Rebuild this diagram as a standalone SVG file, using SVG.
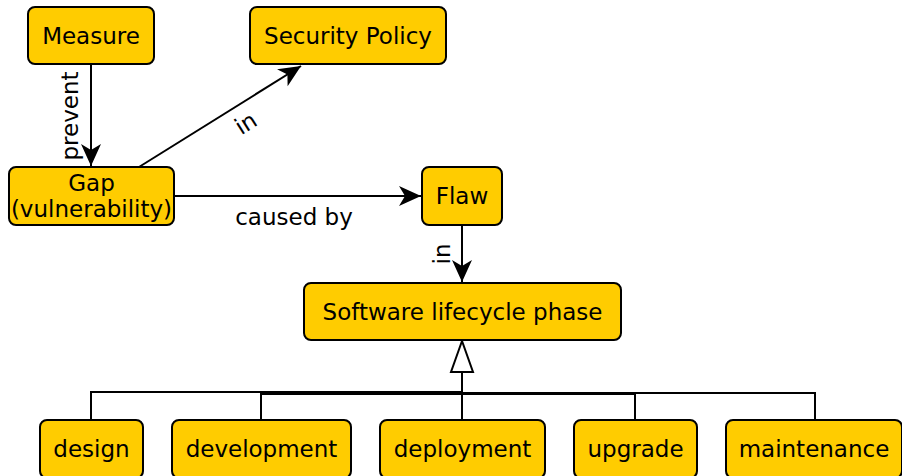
<svg xmlns="http://www.w3.org/2000/svg" width="902" height="476" viewBox="0 0 902 476">
<style>
.box{fill:#ffcc00;stroke:#000;stroke-width:2}
.t{font-family:"DejaVu Sans",sans-serif;font-size:23px;fill:#000;text-anchor:middle}
.e{fill:none;stroke:#000;stroke-width:2}
</style>
<defs>
<marker id="arr" markerUnits="userSpaceOnUse" viewBox="-24 -12 26 24" refX="0" refY="0" markerWidth="26" markerHeight="24" orient="auto">
<path d="M0,0 L-22,-10 L-16,0 L-22,10 Z" fill="#000"/>
</marker>
</defs>
<rect width="902" height="476" fill="#fff"/>
<g id="connectors">
<path class="e" d="M91,64 V166" marker-end="url(#arr)"/>
<path class="e" d="M139,167 L301,66" marker-end="url(#arr)"/>
<path class="e" d="M174,196 H421" marker-end="url(#arr)"/>
<path class="e" d="M462,225 V282" marker-end="url(#arr)"/>
<path class="e" d="M91,420 V392 H462"/>
<path class="e" d="M261,420 V394 H462"/>
<path class="e" d="M462,420 V372"/>
<path class="e" d="M635,420 V394 H462"/>
<path class="e" d="M815,420 V393 H462"/>
<path d="M462,341 L451,372 H473 Z" fill="#fff" stroke="#000" stroke-width="2"/>
<text class="t" transform="translate(78,116) rotate(-90)">prevent</text>
<text class="t" transform="translate(250,130) rotate(-32.4)">in</text>
<text class="t" x="294" y="225">caused by</text>
<text class="t" transform="translate(450,254) rotate(-90)">in</text>
</g>
<g id="measure"><rect class="box" x="28" y="7" width="126" height="57" rx="7"/><text class="t" x="91" y="44">Measure</text></g>
<g id="security-policy"><rect class="box" x="250" y="7" width="196" height="57" rx="7"/><text class="t" x="348" y="44">Security Policy</text></g>
<g id="gap"><rect class="box" x="9" y="167" width="165" height="58" rx="7"/><text class="t" x="91.5" y="191">Gap</text><text class="t" x="91.5" y="217">(vulnerability)</text></g>
<g id="flaw"><rect class="box" x="422" y="167" width="80" height="58" rx="7"/><text class="t" x="462" y="204">Flaw</text></g>
<g id="software-lifecycle-phase"><rect class="box" x="304" y="283" width="317" height="57" rx="7"/><text class="t" x="462.5" y="320">Software lifecycle phase</text></g>
<g id="design"><rect class="box" x="40" y="420" width="103" height="58" rx="7"/><text class="t" x="91.5" y="457">design</text></g>
<g id="development"><rect class="box" x="172" y="420" width="179" height="58" rx="7"/><text class="t" x="261.5" y="457">development</text></g>
<g id="deployment"><rect class="box" x="380" y="420" width="165" height="58" rx="7"/><text class="t" x="462.5" y="457">deployment</text></g>
<g id="upgrade"><rect class="box" x="574" y="420" width="123" height="58" rx="7"/><text class="t" x="635.5" y="457">upgrade</text></g>
<g id="maintenance"><rect class="box" x="726" y="420" width="176" height="58" rx="7"/><text class="t" x="814" y="457">maintenance</text></g>
</svg>
